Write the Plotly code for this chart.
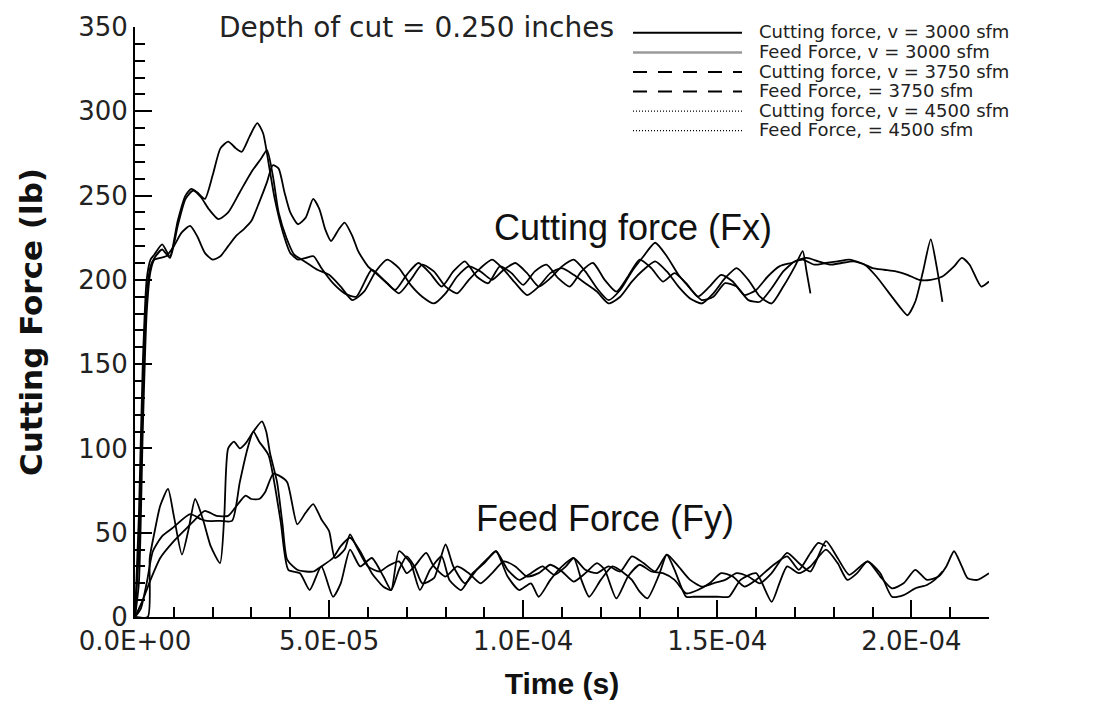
import numpy as np
import plotly.graph_objects as go

# ---------------- data (time in microseconds, force in lb) ----------------
t_cut_3000 = [0,1,2,3,4,5,7,9,11,13,14.5,16,18,20,22,24,26,27.5,29.5,31.5,33,34.5,36,38,40,42,44,46,48,51,
              54,57,61,64,67,70,73,76,79,82,85,88,91,94,97,100,103,106,109,112,115,118,121,124,127,130,133,136,139,142,
              145,148,151,154,157,160,163,166,169,172,175,178,181,184,187,190,193,196,199,202,205,208,211,213,215,218,220]
f_cut_3000 = [0,60,150,200,212,215,221,214,235,250,254,252,248,262,278,282,278,276,285,293,287,268,248,229,216,212,213,214,207,198,
              192,190,206,200,194,203,210,204,196,205,211,202,198,208,204,197,205,209,201,196,205,210,200,193,202,212,207,199,204,198,
              190,196,203,199,191,194,202,208,210,212,209,210,211,212,210,207,206,205,203,200,200,202,208,213,209,196,199]

t_cut_3750 = [0,1,2,3,4,5,7,9,11,13,15,17,19,21.5,24,27,30,32.5,34,35.5,37,39,41,43,45,47,50,53,56,59,
              62,65,68,71,74,77,80,83,86,89,92,95,98,101,104,107,110,113,116,119,122,125,128,131,134,137,140,143,146,149,
              152,155,158,161,164,167,170,173,176,179,182,185,188,191,194,197,199,201,203,205,206.5,208]
f_cut_3750 = [0,40,130,190,208,213,218,213,232,248,253,249,242,236,240,252,264,272,277,262,240,225,215,212,209,206,203,196,188,193,
              205,212,207,197,190,186,192,202,208,205,200,206,210,204,196,201,208,212,205,195,188,194,205,214,222,214,203,195,188,190,
              198,196,188,187,195,205,211,213,211,209,210,211,209,202,193,184,179,187,205,224,208,187]

t_cut_4500 = [0,1,2,3,4,5,8,10,12,14.2,16,18,20,22,24,26,28,30,32,34,35.5,37,38.5,40,42,44,45.9,47.5,49,50.5,
              52.5,54,56,57.5,60,62,65,68,71,74,77,80,83,86,89,92,95,98,101,104,107,110,113,116,119,122,125,128,131,134,
              137,140,143,146,149,152,155,158,161,164,167,170,172,173,174]
f_cut_4500 = [0,20,110,180,205,212,214,220,228,232,226,216,212,214,220,226,230,235,246,258,268,266,252,240,233,237,248,242,230,223,
              230,234,226,217,208,204,198,192,200,209,205,196,192,200,207,212,206,198,191,196,204,207,203,198,193,186,190,199,206,211,
              205,196,189,186,192,201,207,200,190,186,196,208,217,205,192]

t_feed_3000 = [0,3.3,3.8,5,6.5,8.5,10,12.1,13.8,15.5,17.5,19.5,21.9,23,24,25.5,27,28.5,30.5,32.7,
               33.8,34.8,36.6,38,39.2,41.8,44,46,48,51,53,55.4,58,61,64,66,68,70,72,74,
               77,80,82,85,88,91,93,96,99,102,105,108,111,113,116,119,122,125,128,131,
               134,137,140,143,146,149,152,155,158,161,164,168,171,174,178,181,184,188.7,192,195,
               198,201,204,207,209,211,213,214.5,217,220]
f_feed_3000 = [0,0,35,50,66,76,60,37,52,70,58,42,32,60,100,104,100,103,110,116,
               110,97,80,55,34,28,27,27,30,35,42,47,39,26,18,16,28,36,30,20,
               23,43,30,20,28,35,39,28,22,26,30,25,30,35,28,26,30,27,36,32,
               27,37,30,22,18,20,22,26,24,20,26,38,32,27,45,35,25,33,24,17,
               20,28,22,24,30,39,30,23,22,26]

t_feed_3750 = [0,1.5,3,4.6,7,9.8,14.2,17,18.5,22,25,27,29,30.5,32,34.4,37.5,39.5,42.5,45,
               48,51,53,55.4,58,61,64,66,68,71,73.4,76,79,81,84,87,90,93,96,99,
               102,104,107,110,113,115,117,120,123,126,128,130,132,135,137,139,142,144,147,150,
               153,156,160,164,166,168,171,174,178,181,183.5,186,188.7,192,195,198,201,204,206,208]
f_feed_3750 = [0,5,20,39,48,53,61,58,57,57,57,80,100,110,104,96,57,28,26,16,
               30,12,20,40,30,35,24,16,39,32,16,28,36,22,16,26,32,39,24,16,
               20,12,22,30,35,22,12,22,30,26,22,15,11,25,37,28,12,12,12,12,
               12,22,26,9,20,30,26,30,40,32,22,26,33,26,12,13,17,19,22,27]

t_feed_4500 = [0,2,4,6.5,10,13,16,18,21,24,26.5,28.5,30,32,33.5,35.6,37,39.2,41.8,44,
               45.9,48,50,51.5,54,55.4,57,60,63,65,68,70,72,75,77,80,83,86,89,92,
               95,98,101,104,107,110,113,116,119,121,124,127,130,133,136,139,142,145,148,151,
               154,157,160,164,168,171,174,176,178]
f_feed_4500 = [0,10,22,35,45,52,59,63,60,60,67,72,70,70,74,85,84,80,55,62,
               67,58,51,35,40,49,42,30,27,30,33,26,30,38,30,24,30,26,20,26,
               33,30,24,26,31,27,21,26,32,28,11,24,31,27,26,22,14,16,20,26,
               24,18,22,30,36,28,38,44,42]

x_tick_vals = [0, 5e-5, 1e-4, 1.5e-4, 2e-4]
x_tick_text = ["0.0E+00", "5.0E-05", "1.0E-04", "1.5E-04", "2.0E-04"]

legend_labels = ["Cutting force, v = 3000 sfm", "Feed Force, v = 3000 sfm",
                 "Cutting force, v = 3750 sfm", "Feed Force, = 3750 sfm",
                 "Cutting force, v = 4500 sfm", "Feed Force, = 4500 sfm"]
legend_colors = ["black", "#9a9a9a", "black", "black", "black", "black"]
legend_dashes = ["solid", "solid", "14px,11px", "14px,11px", "1px,2px", "1px,2px"]
legend_widths = [2, 2.5, 2, 2, 1.2, 1.2]

US = 1e-6
series = [(t_cut_3000, f_cut_3000), (t_cut_3750, f_cut_3750), (t_cut_4500, f_cut_4500),
          (t_feed_3000, f_feed_3000), (t_feed_3750, f_feed_3750), (t_feed_4500, f_feed_4500)]

fig = go.Figure()
for t, f in series:
    fig.add_trace(go.Scatter(x=np.array(t) * US, y=f, mode="lines",
                             line=dict(color="black", width=1.8, shape="spline", smoothing=0.6),
                             showlegend=False, hoverinfo="skip"))

TICKFONT = dict(family="DejaVu Sans", size=26, color="#222")

fig.update_layout(
    width=1098, height=707,
    margin=dict(l=135, r=109, t=25, b=79),
    paper_bgcolor="white", plot_bgcolor="white",
    showlegend=False,
    xaxis=dict(range=[0, 2.2e-4], showline=True, linecolor="black", linewidth=2,
               ticks="inside", ticklen=17, tickwidth=1.5, tickcolor="black",
               tickvals=x_tick_vals, ticktext=x_tick_text, tickfont=TICKFONT,
               minor=dict(ticks="inside", ticklen=10, tickwidth=1.5, tickcolor="black", dtick=1e-5),
               showgrid=False, zeroline=False,
               title=dict(text="Time (s)",
                          font=dict(family="Liberation Sans, Arial", size=30, color="#111", weight="bold"),
                          standoff=18)),
    yaxis=dict(range=[0, 350], showline=True, linecolor="black", linewidth=2,
               ticks="inside", ticklen=17, tickwidth=1.5, tickcolor="black",
               dtick=50, tick0=0, tickfont=TICKFONT,
               minor=dict(ticks="inside", ticklen=10, tickwidth=1.5, tickcolor="black", dtick=10),
               showgrid=False, zeroline=False,
               title=dict(text="Cutting Force (lb)",
                          font=dict(family="DejaVu Sans", size=31, color="#111", weight="bold"),
                          standoff=26)),
)

# plot-area geometry in pixels to place the legend/annotations
L, R, T, B = 135, 989, 25, 628
def px(x):
    return (x - L) / (R - L)
def py(y):
    return (B - y) / (B - T)

row_y = [31, 51, 71, 91, 111, 131]
for lab, col, dsh, wd, yy in zip(legend_labels, legend_colors, legend_dashes, legend_widths, row_y):
    fig.add_shape(type="line", xref="paper", yref="paper",
                  x0=px(633), x1=px(742), y0=py(yy), y1=py(yy),
                  line=dict(color=col, width=wd, dash=dsh))
    fig.add_annotation(text=lab, xref="paper", yref="paper", x=px(758), y=py(yy - 1),
                       xanchor="left", yanchor="middle", showarrow=False, borderpad=0,
                       font=dict(family="DejaVu Sans", size=18, color="#222"))

fig.add_annotation(text="Depth of cut = 0.250 inches", xref="paper", yref="paper",
                   x=px(416), y=py(25), xanchor="center", yanchor="middle", showarrow=False,
                   font=dict(family="DejaVu Sans", size=28, color="#222"))
fig.add_annotation(text="Cutting force (Fx)", xref="paper", yref="paper",
                   x=px(633), y=py(230), xanchor="center", yanchor="middle", showarrow=False,
                   font=dict(family="Liberation Sans Narrow, Liberation Sans", size=36, color="#111"))
fig.add_annotation(text="Feed Force (Fy)", xref="paper", yref="paper",
                   x=px(605), y=py(527), xanchor="center", yanchor="middle", showarrow=False,
                   font=dict(family="Liberation Sans Narrow, Liberation Sans", size=36, color="#111"))

fig.write_html("out.html")
